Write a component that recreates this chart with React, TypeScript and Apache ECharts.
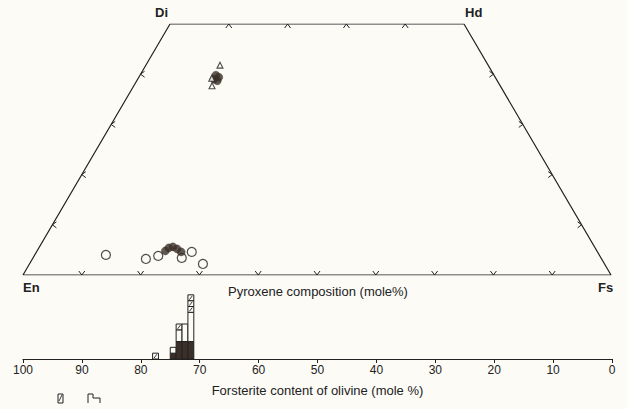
import React, { useEffect, useRef } from "react";
import * as echarts from "echarts";

// Pyroxene compositions (Wo, Fs in mole %; En = 100 - Wo - Fs)
const openCircleWo = [4.0, 3.2, 3.8, 3.4, 4.6, 2.2];
const openCircleFs = [12.1, 19.3, 21.1, 25.3, 26.4, 29.5];
const filledCircleWo = [4.8, 5.4, 5.6, 5.2, 4.6, 39.8, 39.4, 38.7, 39.0];
const filledCircleFs = [21.8, 22.1, 22.7, 23.6, 24.6, 12.9, 13.6, 13.7, 13.0];
const openTriangleWo = [41.8, 37.7, 39.2];
const openTriangleFs = [12.6, 13.3, 12.5];

// Quadrilateral corners (Wo, Fs)
const cornerNames = ["En", "Di", "Hd", "Fs"];
const cornerWo = [0, 50, 50, 0];
const cornerFs = [0, 0, 50, 100];

// Quadrilateral tick marks
const baseTickFs = [10, 20, 30, 40, 50, 60, 70, 80, 90];
const topTickFs = [10, 20, 30, 40];
const sideTickWo = [10, 20, 30, 40];

// Olivine histogram (1 mole % Fo bins, upper edge), counts stacked: dark, open, hatched
const binUpperFo = [78, 75, 74, 73, 72];
const darkCounts = [0, 1, 3, 3, 3];
const openCounts = [0, 1, 2, 3, 5];
const hatchCounts = [1, 0, 1, 0, 3];

const BG = "#fcfbf6";
const INK = "#222";
const DARK = "#3b3029";
const FONT = "Liberation Sans";

const toXY = (wo: number, fs: number) => [fs + wo / 2, wo];

export default function App() {
  const ref = useRef<HTMLDivElement>(null);
  useEffect(() => {
    if (!ref.current) return;
    const chart = echarts.init(ref.current, undefined, { renderer: "svg" });

    const outline = [0, 1, 2, 3, 0].map((i) => toXY(cornerWo[i], cornerFs[i]));
    const ticks: number[][] = [];
    baseTickFs.forEach((f) => ticks.push([...toXY(0, f), 0]));
    topTickFs.forEach((f) => ticks.push([...toXY(50, f), 1]));
    sideTickWo.forEach((w) => ticks.push([...toXY(w, 0), 2]));
    sideTickWo.forEach((w) => ticks.push([...toXY(w, 100 - w), 3]));

    const segs: number[][] = [];
    binUpperFo.forEach((hi, i) => {
      let y = 0;
      if (darkCounts[i]) {
        segs.push([hi, hi - 1, y, y + darkCounts[i], 0]);
        y += darkCounts[i];
      }
      if (openCounts[i]) {
        segs.push([hi, hi - 1, y, y + openCounts[i], 1]);
        y += openCounts[i];
      }
      for (let k = 0; k < hatchCounts[i]; k++) {
        segs.push([hi, hi - 1, y, y + 1, 2]);
        y += 1;
      }
    });

    const option: any = {
      animation: false,
      backgroundColor: BG,
      grid: [
        { left: 23, top: 24, width: 588, height: 251 },
        { left: 23, top: 289, width: 589, height: 70 },
      ],
      xAxis: [
        { gridIndex: 0, type: "value", min: 0, max: 100, show: false },
        {
          gridIndex: 1,
          type: "value",
          min: 0,
          max: 100,
          interval: 10,
          inverse: true,
          axisLine: { show: true, lineStyle: { color: INK, width: 1.2 } },
          axisTick: { show: true, inside: false, length: 4, lineStyle: { color: INK } },
          axisLabel: { color: INK, fontSize: 12, fontFamily: FONT, margin: 5 },
          splitLine: { show: false },
          name: "Forsterite content of olivine (mole %)",
          nameLocation: "middle",
          nameGap: 25,
          nameTextStyle: { color: INK, fontSize: 13, fontFamily: FONT },
        },
      ],
      yAxis: [
        { gridIndex: 0, type: "value", min: 0, max: 50, show: false },
        { gridIndex: 1, type: "value", min: 0, max: 12, show: false },
      ],
      series: [
        {
          type: "line",
          xAxisIndex: 0,
          yAxisIndex: 0,
          data: outline,
          symbol: "none",
          lineStyle: { color: INK, width: 1.2 },
          silent: true,
        },
        {
          type: "custom",
          xAxisIndex: 0,
          yAxisIndex: 0,
          data: ticks,
          silent: true,
          renderItem: (params: any, api: any) => {
            const p = api.coord([api.value(0), api.value(1)]);
            const d = api.value(2);
            const s = 3,
              h = 4;
            let pts: number[][];
            if (d === 0) pts = [[p[0] - s, p[1] - h], [p[0], p[1]], [p[0] + s, p[1] - h]];
            else if (d === 1) pts = [[p[0] - s, p[1] + h], [p[0], p[1]], [p[0] + s, p[1] + h]];
            else if (d === 2) pts = [[p[0] + h, p[1] - s], [p[0], p[1]], [p[0] + h, p[1] + s]];
            else pts = [[p[0] - h, p[1] - s], [p[0], p[1]], [p[0] - h, p[1] + s]];
            return {
              type: "polyline",
              shape: { points: pts },
              style: { stroke: INK, fill: null, lineWidth: 1 },
            };
          },
        },
        {
          type: "scatter",
          xAxisIndex: 0,
          yAxisIndex: 0,
          symbol: "circle",
          symbolSize: 9,
          data: openCircleWo.map((w, i) => toXY(w, openCircleFs[i])),
          itemStyle: { color: BG, borderColor: INK, borderWidth: 1.2 },
        },
        {
          type: "scatter",
          xAxisIndex: 0,
          yAxisIndex: 0,
          symbol: "circle",
          symbolSize: 8,
          data: filledCircleWo.map((w, i) => toXY(w, filledCircleFs[i])),
          itemStyle: { color: DARK, borderColor: DARK, borderWidth: 0.5 },
        },
        {
          type: "scatter",
          xAxisIndex: 0,
          yAxisIndex: 0,
          symbol: "triangle",
          symbolSize: 6,
          data: openTriangleWo.map((w, i) => toXY(w, openTriangleFs[i])),
          itemStyle: { color: BG, borderColor: INK, borderWidth: 1.1 },
        },
        {
          type: "custom",
          xAxisIndex: 1,
          yAxisIndex: 1,
          data: segs,
          silent: true,
          renderItem: (params: any, api: any) => {
            const a = api.coord([api.value(0), api.value(3)]);
            const b = api.coord([api.value(1), api.value(2)]);
            const x = Math.min(a[0], b[0]);
            const w = Math.abs(b[0] - a[0]);
            const y = Math.min(a[1], b[1]);
            const h = Math.abs(b[1] - a[1]);
            const kind = api.value(4);
            if (kind === 0) {
              return {
                type: "rect",
                shape: { x, y, width: w, height: h },
                style: { fill: DARK, stroke: INK, lineWidth: 1 },
              };
            }
            if (kind === 1) {
              return {
                type: "rect",
                shape: { x, y, width: w, height: h },
                style: { fill: BG, stroke: INK, lineWidth: 1 },
              };
            }
            return {
              type: "group",
              children: [
                {
                  type: "rect",
                  shape: { x, y, width: w, height: h },
                  style: { fill: BG, stroke: INK, lineWidth: 1 },
                },
                {
                  type: "polyline",
                  shape: {
                    points: [
                      [x + 1.5, y + h - 1],
                      [x + w - 1.5, y + 1],
                    ],
                  },
                  style: { stroke: INK, lineWidth: 0.9, fill: null },
                },
              ],
            };
          },
        },
      ],
      graphic: [
        { type: "text", left: 155, top: 6, style: { text: cornerNames[1], fontSize: 13, fontWeight: "bold", fill: INK, fontFamily: FONT } },
        { type: "text", left: 465, top: 6, style: { text: cornerNames[2], fontSize: 13, fontWeight: "bold", fill: INK, fontFamily: FONT } },
        { type: "text", left: 23, top: 281, style: { text: cornerNames[0], fontSize: 13, fontWeight: "bold", fill: INK, fontFamily: FONT } },
        { type: "text", left: 598, top: 281, style: { text: cornerNames[3], fontSize: 13, fontWeight: "bold", fill: INK, fontFamily: FONT } },
        {
          type: "text",
          x: 318,
          y: 291,
          style: {
            text: "Pyroxene composition (mole%)",
            fontSize: 13,
            fill: INK,
            fontFamily: FONT,
            align: "center",
            verticalAlign: "middle",
          },
        },
        {
          type: "group",
          children: [
            { type: "rect", shape: { x: 58, y: 394, width: 5, height: 9 }, style: { fill: BG, stroke: INK, lineWidth: 1 } },
            { type: "line", shape: { x1: 59, y1: 401, x2: 62, y2: 395 }, style: { stroke: INK, lineWidth: 0.9 } },
            {
              type: "polyline",
              shape: { points: [[88, 403], [88, 394], [93, 394], [93, 398], [100, 398], [100, 403]] },
              style: { stroke: INK, fill: null, lineWidth: 1 },
            },
          ],
        },
      ],
    };
    chart.setOption(option);
    return () => chart.dispose();
  }, []);
  return (
    <div
      ref={ref}
      style={{ position: "fixed", left: 0, top: 0, width: 627, height: 409 }}
    />
  );
}
